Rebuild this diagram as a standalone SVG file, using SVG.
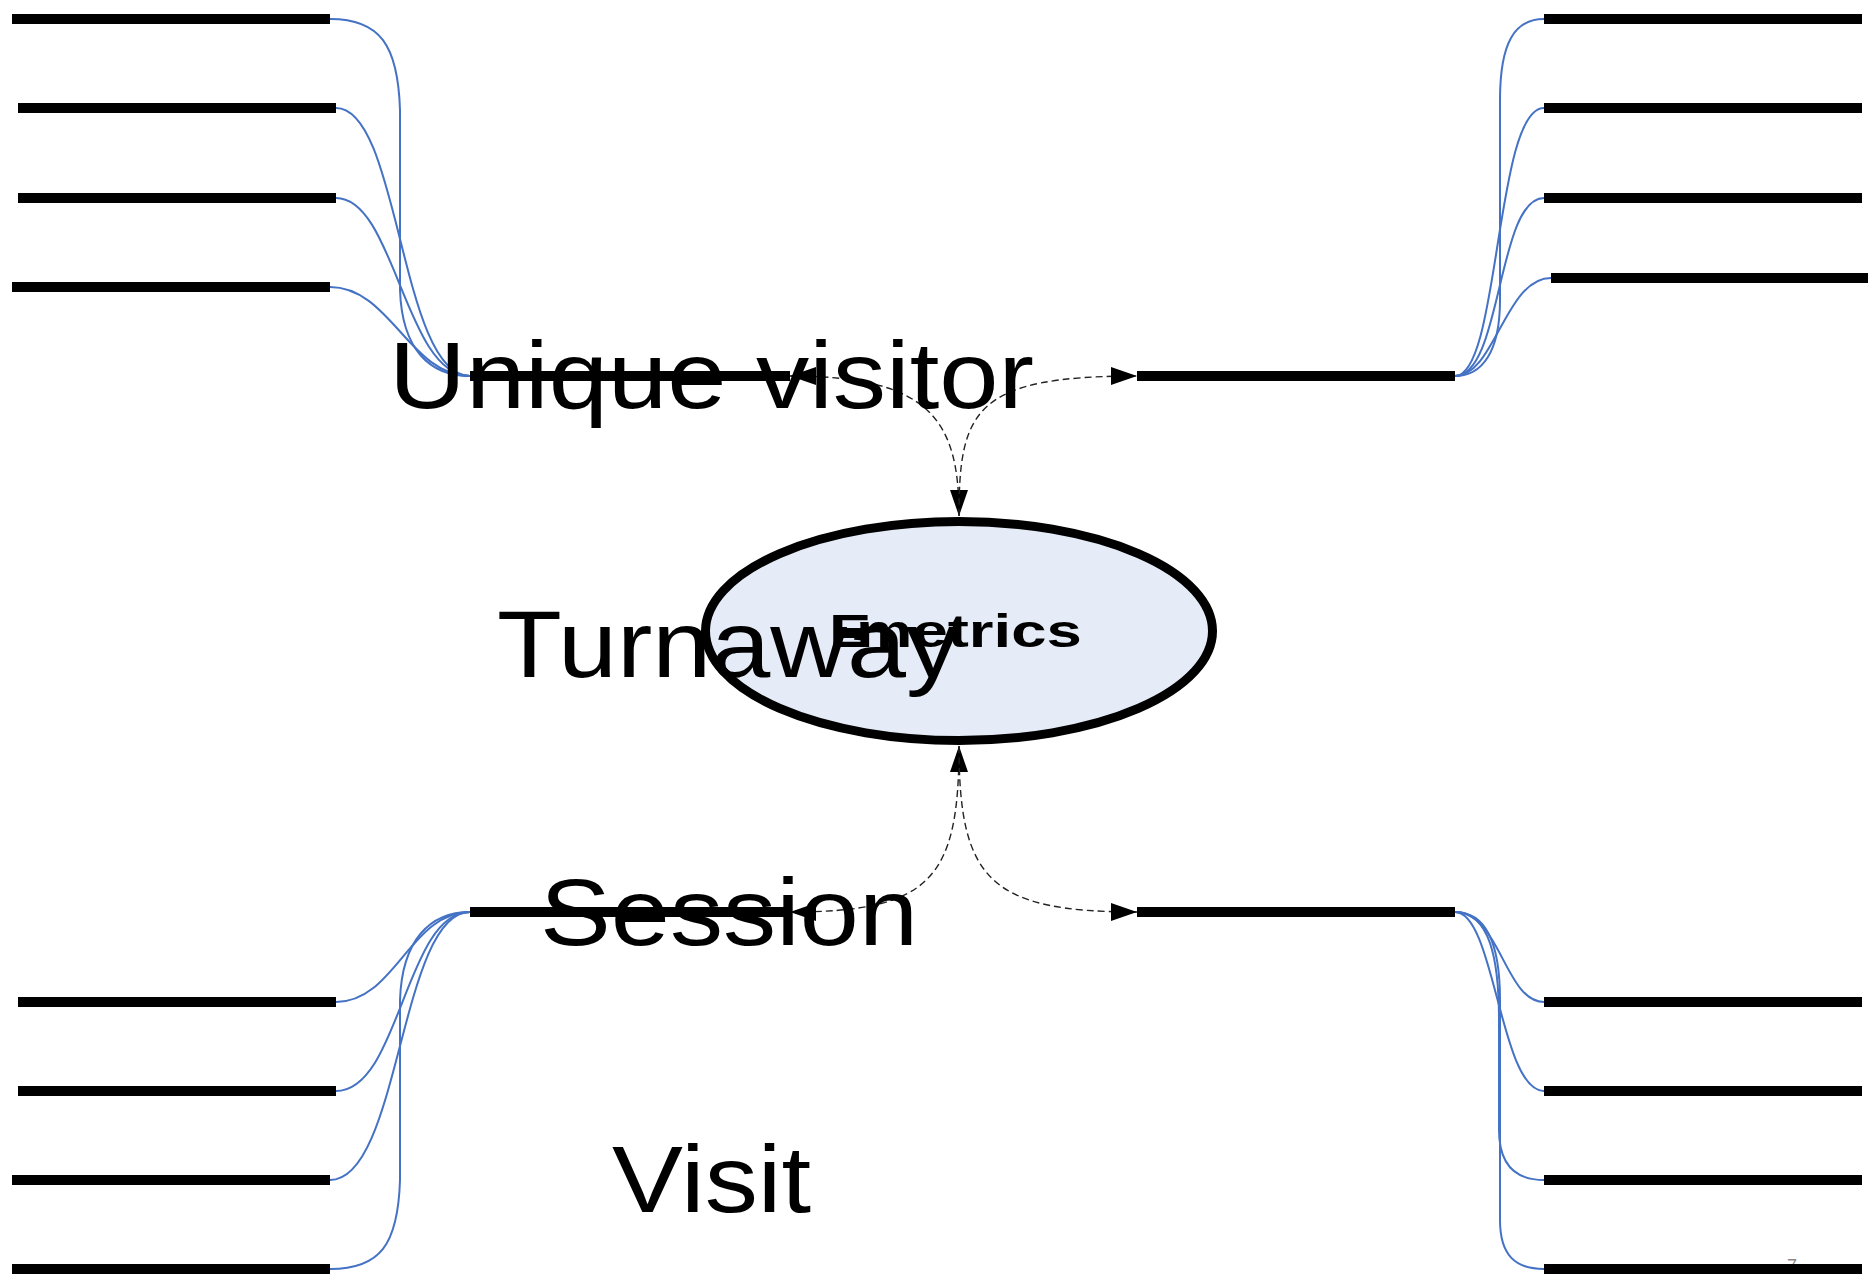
<svg xmlns="http://www.w3.org/2000/svg" width="1876" height="1278" viewBox="0 0 1876 1278">
<style>
  .bar { stroke: #000; stroke-width: 10; fill: none; }
  .blue { stroke: #4472C4; stroke-width: 2; fill: none; }
  .dash { stroke: #222; stroke-width: 1.4; stroke-dasharray: 7 4; fill: none; }
  .big { font-family: "Liberation Sans", Arial, sans-serif; font-size: 94px; fill: #000; }
  .em { font-family: "Liberation Sans", Arial, sans-serif; font-size: 47px; font-weight: bold; fill: #000; }
  .pg { font-family: "Liberation Sans", Arial, sans-serif; font-size: 18px; fill: #888; }
</style>
<defs>
  <marker id="arr" viewBox="0 0 26 18" refX="26" refY="9" markerWidth="26" markerHeight="18" markerUnits="userSpaceOnUse" orient="auto-start-reverse">
    <path d="M0,0 L26,9 L0,18 z" fill="#000"/>
  </marker>
</defs>
<rect width="1876" height="1278" fill="#fff"/>
<text class="pg" x="1787" y="1272">7</text>

<g id="connectors">
  <!-- top-left fan -->
  <path class="blue" d="M330,19 C380,19 398,45 400,110 L400,290 C402,350 430,376 470,376"/>
  <path class="blue" d="M336,108 C400,108 400,376 470,376"/>
  <path class="blue" d="M336,198 C395,198 405,376 470,376"/>
  <path class="blue" d="M330,287 C390,287 410,376 470,376"/>
  <!-- top-right fan -->
  <path class="blue" d="M1544,19 C1515,19 1500,42 1500,100 L1500,300 C1500,352 1482,376 1455,376"/>
  <path class="blue" d="M1544,108 C1495,108 1500,376 1455,376"/>
  <path class="blue" d="M1544,198 C1497,198 1502,376 1455,376"/>
  <path class="blue" d="M1551,278 C1505,278 1495,376 1455,376"/>
  <!-- bottom-left fan -->
  <path class="blue" d="M470,912 C410,912 395,1002 336,1002"/>
  <path class="blue" d="M470,912 C405,912 400,1091 336,1091"/>
  <path class="blue" d="M470,912 C400,912 400,1180 330,1180"/>
  <path class="blue" d="M470,912 C430,912 402,940 400,1000 L400,1180 C398,1245 380,1269 330,1269"/>
  <!-- bottom-right fan -->
  <path class="blue" d="M1455,912 C1500,912 1505,1002 1544,1002"/>
  <path class="blue" d="M1455,912 C1495,912 1500,1091 1544,1091"/>
  <path class="blue" d="M1455,912 C1490,912 1499,960 1499,1020 L1499,1130 C1499,1165 1515,1180 1544,1180"/>
  <path class="blue" d="M1455,912 C1485,912 1500,940 1500,1000 L1500,1220 C1500,1255 1515,1269 1544,1269"/>
  <!-- dashed arrows -->
  <path class="dash" d="M959,516 C959,420 930,376 790,376" marker-start="url(#arr)" marker-end="url(#arr)"/>
  <path class="dash" d="M959,516 C959,410 975,376 1137,376" marker-end="url(#arr)"/>
  <path class="dash" d="M959,746 C959,880 930,912 790,912" marker-start="url(#arr)" marker-end="url(#arr)"/>
  <path class="dash" d="M959,746 C959,880 990,912 1137,912" marker-end="url(#arr)"/>
</g>

<g id="src-left-1"><line class="bar" x1="12" y1="19" x2="330" y2="19"/></g>
<g id="src-left-2"><line class="bar" x1="18" y1="108" x2="336" y2="108"/></g>
<g id="src-left-3"><line class="bar" x1="18" y1="198" x2="336" y2="198"/></g>
<g id="src-left-4"><line class="bar" x1="12" y1="287" x2="330" y2="287"/></g>

<g id="src-right-1"><line class="bar" x1="1544" y1="19" x2="1862" y2="19"/></g>
<g id="src-right-2"><line class="bar" x1="1544" y1="108" x2="1862" y2="108"/></g>
<g id="src-right-3"><line class="bar" x1="1544" y1="198" x2="1862" y2="198"/></g>
<g id="src-right-4"><line class="bar" x1="1551" y1="278" x2="1868" y2="278"/></g>

<g id="bot-left-1"><line class="bar" x1="18" y1="1002" x2="336" y2="1002"/></g>
<g id="bot-left-2"><line class="bar" x1="18" y1="1091" x2="336" y2="1091"/></g>
<g id="bot-left-3"><line class="bar" x1="12" y1="1180" x2="330" y2="1180"/></g>
<g id="bot-left-4"><line class="bar" x1="12" y1="1269" x2="330" y2="1269"/></g>

<g id="bot-right-1"><line class="bar" x1="1544" y1="1002" x2="1862" y2="1002"/></g>
<g id="bot-right-2"><line class="bar" x1="1544" y1="1091" x2="1862" y2="1091"/></g>
<g id="bot-right-3"><line class="bar" x1="1544" y1="1180" x2="1862" y2="1180"/></g>
<g id="bot-right-4"><line class="bar" x1="1544" y1="1269" x2="1862" y2="1269"/></g>

<g id="top-right-hub"><line class="bar" x1="1137" y1="376" x2="1455" y2="376"/></g>
<g id="bottom-right-hub"><line class="bar" x1="1137" y1="912" x2="1455" y2="912"/></g>

<g id="emetrics">
  <ellipse cx="959" cy="631" rx="253.5" ry="109.5" fill="#E5ECF7" stroke="#000" stroke-width="9"/>
</g>

<g id="unique-visitor">
  <line class="bar" x1="470" y1="376" x2="790" y2="376"/>
  <text class="big" x="389" y="408" textLength="645" lengthAdjust="spacingAndGlyphs">Unique visitor</text>
</g>
<g id="session">
  <line class="bar" x1="470" y1="912" x2="790" y2="912"/>
  <text class="big" x="540" y="945" textLength="378" lengthAdjust="spacingAndGlyphs">Session</text>
</g>
<g id="turnaway">
  <text class="big" x="497" y="677" textLength="462" lengthAdjust="spacingAndGlyphs">Turnaway</text>
</g>
<g id="visit">
  <text class="big" x="612" y="1212" textLength="199" lengthAdjust="spacingAndGlyphs">Visit</text>
</g>
<g id="emetrics-label">
  <text class="em" transform="scale(1.35,1)" x="614.1 621.5 634.1" y="647">E-metrics</text>
</g>
</svg>
